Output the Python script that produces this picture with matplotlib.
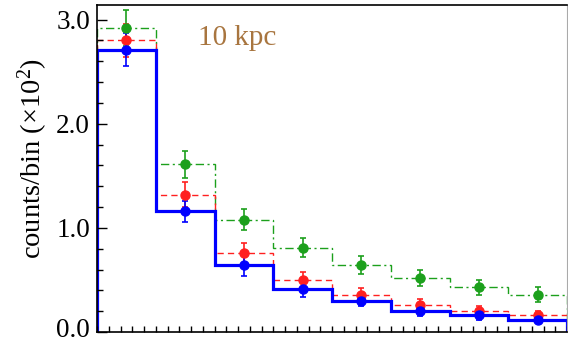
import numpy as np
import matplotlib.pyplot as plt
import matplotlib.transforms as mtransforms
from matplotlib.ticker import MultipleLocator, NullFormatter

# counts per bin in units of 10^2, eight bins
edges = np.arange(0, 9)
centers = edges[:-1] + 0.5

green = [2.92, 1.61, 1.08, 0.81, 0.64, 0.52, 0.43, 0.36]
green_err = [0.17, 0.13, 0.105, 0.094, 0.085, 0.077, 0.072, 0.07]
red = [2.80, 1.32, 0.76, 0.50, 0.36, 0.26, 0.20, 0.16]
red_err = [0.16, 0.12, 0.096, 0.072, 0.064, 0.056, 0.05, 0.045]
blue = [2.71, 1.16, 0.64, 0.41, 0.30, 0.20, 0.16, 0.12]
blue_err = [0.16, 0.10, 0.098, 0.075, 0.055, 0.045, 0.04, 0.035]

plt.rcParams['font.family'] = ['Liberation Serif', 'DejaVu Serif']
plt.rcParams['mathtext.fontset'] = 'custom'
plt.rcParams['mathtext.rm'] = 'Liberation Serif'
plt.rcParams['mathtext.it'] = 'Liberation Serif:italic'

fig = plt.figure(figsize=(5.68, 3.43), dpi=100)
ax = fig.add_axes([97 / 568, 11 / 343, 470 / 568, 327 / 343])

gcol = '#1ca01c'
rcol = '#ff2020'
bcol = '#0000ff'

ax.stairs(green, edges, color=gcol, lw=1.0, linestyle=(0, (6, 2.5, 1.5, 2.5)))
ax.stairs(red, edges, color=rcol, lw=1.0, linestyle=(0, (4.5, 3)))
ax.stairs(blue, edges, color=bcol, lw=2.3)

ax.errorbar(centers, green, yerr=green_err, fmt='o', color=gcol, ms=6.5,
            capsize=2, elinewidth=1.2, capthick=1.2)
ax.errorbar(centers, red, yerr=red_err, fmt='o', color=rcol, ms=6.5,
            capsize=2, elinewidth=1.2, capthick=1.2)
ax.errorbar(centers, blue, yerr=blue_err, fmt='o', color=bcol, ms=6.5,
            capsize=2, elinewidth=1.2, capthick=1.2)

ax.text(1.72, 2.76, '10 kpc', color='#a8753f', fontsize=21)

ax.set_xlim(0, 8)
ax.set_ylim(0, 3.14)
ax.set_ylabel('counts/bin (×10$^2$)', fontsize=20.5)
ax.yaxis.set_label_coords(-0.10, 0.53)
ax.set_yticks([0.0, 1.0, 2.0, 3.0])
ax.set_yticklabels(['0.0', '1.0', '2.0', '3.0'])
ax.yaxis.set_minor_locator(MultipleLocator(0.2))
ax.xaxis.set_major_locator(MultipleLocator(0.2))
ax.xaxis.set_major_formatter(NullFormatter())
ax.tick_params(axis='y', which='major', direction='in', length=7, width=1,
               labelsize=19.5, pad=5)
ax.tick_params(axis='y', which='minor', direction='in', length=4, width=1)
ax.tick_params(axis='x', which='major', direction='in', length=4, width=1)
ax.spines['right'].set_color('#aaaaaa')
for s in ['left', 'bottom', 'top']:
    ax.spines[s].set_linewidth(1.2)

# nudge the bottom tick label up so it stays inside the figure
lab0 = ax.get_yticklabels()[0]
lab0.set_transform(lab0.get_transform() +
                   mtransforms.ScaledTranslation(0, 3 / 72, fig.dpi_scale_trans))

fig.savefig('out.png', dpi=100)
